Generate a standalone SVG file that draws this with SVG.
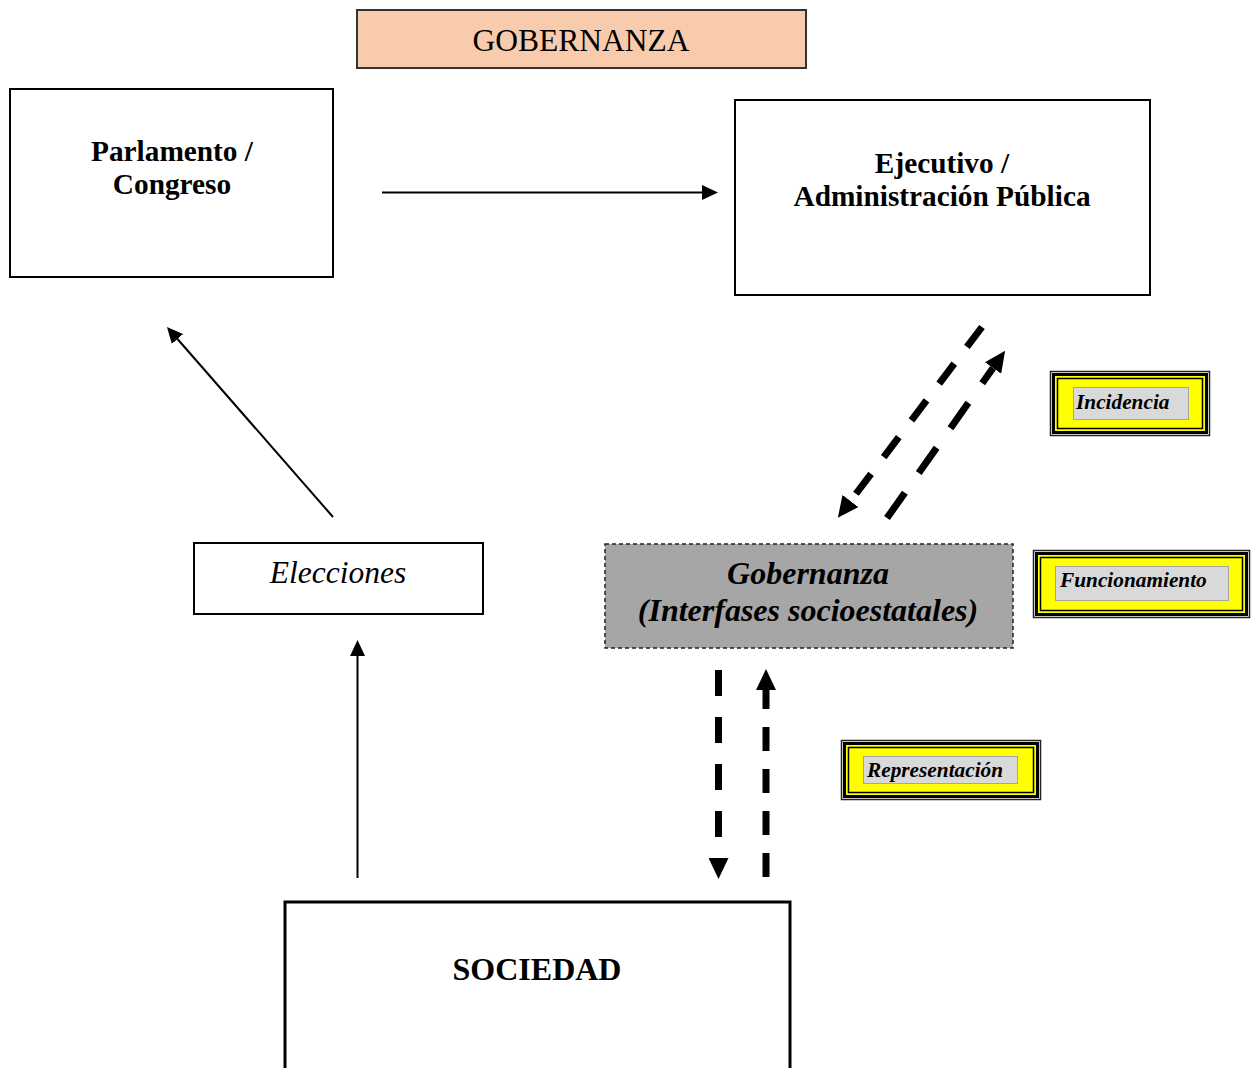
<svg xmlns="http://www.w3.org/2000/svg" width="1258" height="1068" viewBox="0 0 1258 1068">
  <style>
    .box { fill: #ffffff; stroke: #000000; stroke-width: 2; }
    .serif { font-family: "Liberation Serif", "Times New Roman", serif; fill: #000000; }
    .bold { font-weight: bold; }
    .ital { font-style: italic; }
    .thin { stroke: #000000; stroke-width: 2; fill: none; }
    .thick { stroke: #000000; stroke-width: 7; fill: none; }
    .lbl-outer { fill: #ffffff; stroke: #222222; stroke-width: 1.5; }
    .lbl-mid { fill: #ffff00; stroke: #000000; stroke-width: 3; }
    .lbl-inner { fill: none; stroke: #000000; stroke-width: 1.5; }
    .lbl-grey { fill: #d9d9d9; stroke: #a6a6a6; stroke-width: 1; }
    .lbl-text { font-family: "Liberation Serif", "Times New Roman", serif; font-weight: bold; font-style: italic; font-size: 21.3px; fill: #000000; }
  </style>
  <defs>
    <marker id="ah-thin" markerUnits="userSpaceOnUse" markerWidth="16" markerHeight="15" refX="0" refY="7.5" orient="auto">
      <path d="M0,0 L16,7.5 L0,15 Z" fill="#000000"/>
    </marker>
    <marker id="ah-thick" markerUnits="userSpaceOnUse" markerWidth="21" markerHeight="20" refX="0" refY="10" orient="auto">
      <path d="M0,0 L21,10 L0,20 Z" fill="#000000"/>
    </marker>
  </defs>
  <rect width="1258" height="1068" fill="#ffffff"/>

  <g id="title">
    <rect x="357" y="10" width="449" height="58" fill="#f8cbad" stroke="#333333" stroke-width="2"/>
    <text class="serif" x="581" y="51" font-size="31.5" text-anchor="middle">GOBERNANZA</text>
  </g>

  <g id="parlamento">
    <rect class="box" x="10" y="89" width="323" height="188"/>
    <text class="serif bold" x="172" y="161" font-size="29.3" text-anchor="middle">Parlamento /</text>
    <text class="serif bold" x="172" y="194" font-size="29.3" text-anchor="middle">Congreso</text>
  </g>

  <g id="ejecutivo">
    <rect class="box" x="735" y="100" width="415" height="195"/>
    <text class="serif bold" x="942" y="173" font-size="29.3" text-anchor="middle">Ejecutivo /</text>
    <text class="serif bold" x="942" y="206" font-size="29.3" text-anchor="middle">Administración Pública</text>
  </g>

  <g id="elecciones">
    <rect class="box" x="194" y="543" width="289" height="71"/>
    <text class="serif ital" x="338" y="583" font-size="31.5" text-anchor="middle">Elecciones</text>
  </g>

  <g id="gobernanza">
    <rect x="605" y="544" width="408" height="104" fill="#a6a6a6" stroke="#222222" stroke-width="1.5" stroke-dasharray="4 3"/>
    <text class="serif bold ital" x="808" y="584" font-size="32" text-anchor="middle">Gobernanza</text>
    <text class="serif bold ital" x="808" y="621" font-size="32" text-anchor="middle">(Interfases socioestatales)</text>
  </g>

  <g id="sociedad">
    <rect x="285" y="902" width="505" height="180" fill="#ffffff" stroke="#000000" stroke-width="3"/>
    <text class="serif bold" x="537" y="980" font-size="32" text-anchor="middle">SOCIEDAD</text>
  </g>

  <g id="label-incidencia">
    <rect class="lbl-outer" x="1050.5" y="371.5" width="159" height="64"/>
    <rect class="lbl-mid" x="1053.5" y="374.5" width="153" height="58"/>
    <rect class="lbl-inner" x="1057.5" y="378.5" width="145" height="50"/>
    <rect class="lbl-grey" x="1073.5" y="387.5" width="115" height="32"/>
    <text class="lbl-text" x="1076" y="409">Incidencia</text>
  </g>

  <g id="label-funcionamiento">
    <rect class="lbl-outer" x="1033.5" y="550.5" width="216" height="67"/>
    <rect class="lbl-mid" x="1036.5" y="553.5" width="210" height="61"/>
    <rect class="lbl-inner" x="1040.5" y="557.5" width="202" height="53"/>
    <rect class="lbl-grey" x="1055.5" y="566.5" width="173" height="34"/>
    <text class="lbl-text" x="1060" y="587">Funcionamiento</text>
  </g>

  <g id="label-representacion">
    <rect class="lbl-outer" x="841.5" y="740.5" width="199" height="59"/>
    <rect class="lbl-mid" x="844.5" y="743.5" width="193" height="53"/>
    <rect class="lbl-inner" x="848.5" y="747.5" width="185" height="45"/>
    <rect class="lbl-grey" x="863.5" y="756.5" width="154" height="27"/>
    <text class="lbl-text" x="867" y="777">Representación</text>
  </g>

  <g id="connectors">
    <line class="thin" x1="382" y1="192.5" x2="702" y2="192.5" marker-end="url(#ah-thin)"/>
    <line class="thin" x1="333" y1="517" x2="177.5" y2="339" marker-end="url(#ah-thin)"/>
    <line class="thin" x1="357.5" y1="878" x2="357.5" y2="656" marker-end="url(#ah-thin)"/>
    <line class="thick" x1="718.5" y1="670" x2="718.5" y2="858" stroke-dasharray="26 21" marker-end="url(#ah-thick)"/>
    <line class="thick" x1="766" y1="877" x2="766" y2="690" stroke-dasharray="24 18" stroke-width="6.5" marker-end="url(#ah-thick)"/>
    <line class="thick" x1="982" y1="327" x2="850.5" y2="501" stroke-dasharray="25 21" stroke-width="6.5" marker-end="url(#ah-thick)"/>
    <line class="thick" x1="887" y1="518" x2="993" y2="368" stroke-dasharray="31 24" stroke-width="8" marker-end="url(#ah-thick)"/>
  </g>
</svg>
